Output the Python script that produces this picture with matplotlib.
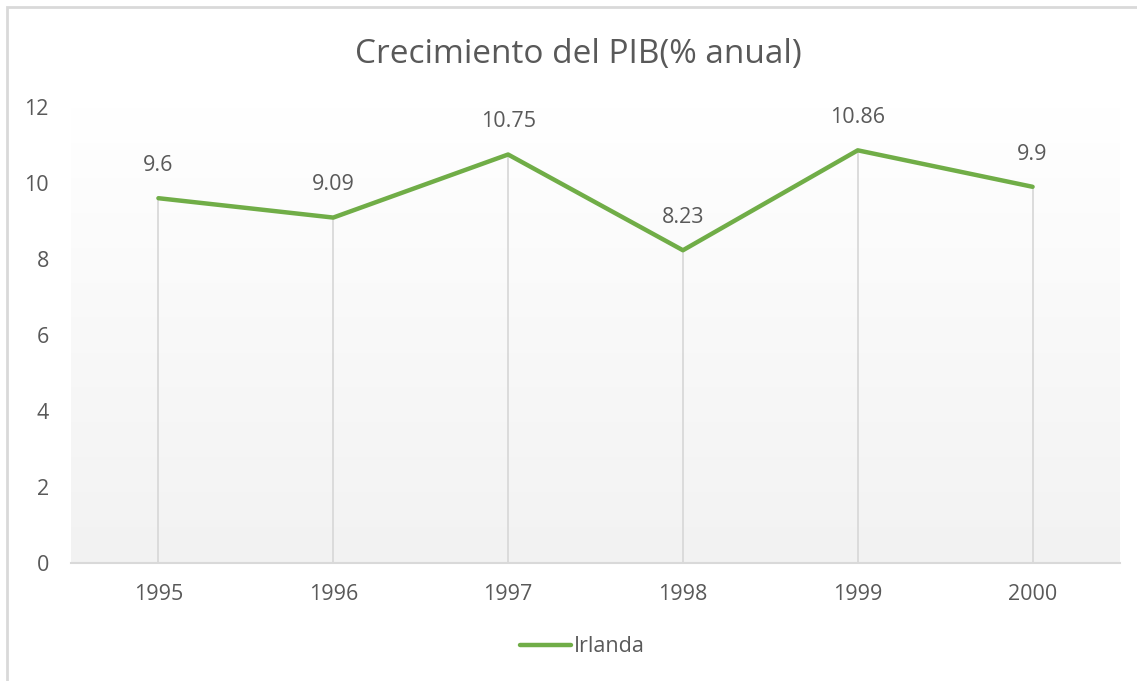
import numpy as np
import matplotlib.pyplot as plt
from matplotlib.patches import Rectangle

years = ['1995', '1996', '1997', '1998', '1999', '2000']
irlanda = [9.6, 9.09, 10.75, 8.23, 10.86, 9.9]
yticks = [0, 2, 4, 6, 8, 10, 12]

plt.rcParams['font.family'] = ['Open Sans', 'DejaVu Sans']
txt = '#595959'
grid = '#d9d9d9'
green = '#70ad47'

fig = plt.figure(figsize=(11.37, 6.81), dpi=100)
fig.patch.set_facecolor('white')
# chart border (cut off on right / bottom like the screenshot)
fig.patches.append(Rectangle((7 / 1137, -0.1), 1.2, 1 - 7 / 681 + 0.1,
                             transform=fig.transFigure, fill=False,
                             edgecolor=grid, linewidth=2))

ax = fig.add_axes([71 / 1137, 1 - 563 / 681, (1120 - 71) / 1137, (563 - 107) / 681])
x = np.arange(len(years))
ax.set_xlim(-0.5, len(years) - 0.5)
ax.set_ylim(0, 12)

# background gradient white -> light grey
grad = np.linspace(1.0, 0.0, 256).reshape(-1, 1)
ax.imshow(grad, extent=[-0.5, len(years) - 0.5, 0, 12], aspect='auto',
          cmap=plt.matplotlib.colors.LinearSegmentedColormap.from_list('g', ['#f2f2f2', '#ffffff']),
          origin='upper', zorder=0)

# drop lines
ax.vlines(x, 0, irlanda, colors=grid, linewidth=1.3, zorder=1)
ax.plot(x, irlanda, color=green, linewidth=3.2, solid_capstyle='round',
        solid_joinstyle='round', label='Irlanda', zorder=3)
for xi, v in zip(x, irlanda):
    ax.annotate(f'{v:g}', (xi, v), xytext=(0, 16), textcoords='offset points',
                ha='center', va='bottom', color=txt, fontsize=15.5)

for s in ['top', 'right', 'left']:
    ax.spines[s].set_visible(False)
ax.spines['bottom'].set_color(grid)
ax.spines['bottom'].set_linewidth(1.5)
ax.set_xticks(x)
ax.set_xticklabels(years)
ax.set_yticks(yticks)
ax.tick_params(axis='both', length=0, colors=txt, labelsize=15.5)
ax.tick_params(axis='x', pad=15)
ax.tick_params(axis='y', pad=16)

fig.text(578 / 1137, 1 - 54 / 681, 'Crecimiento del PIB(% anual)', ha='center',
         va='center', color=txt, fontsize=24)
fig.legend(loc='center', bbox_to_anchor=(582 / 1137, 1 - 647 / 681), frameon=False,
           fontsize=15.5, labelcolor=txt, handlelength=2.4, handletextpad=0.1)

fig.savefig('out.png', dpi=100)
